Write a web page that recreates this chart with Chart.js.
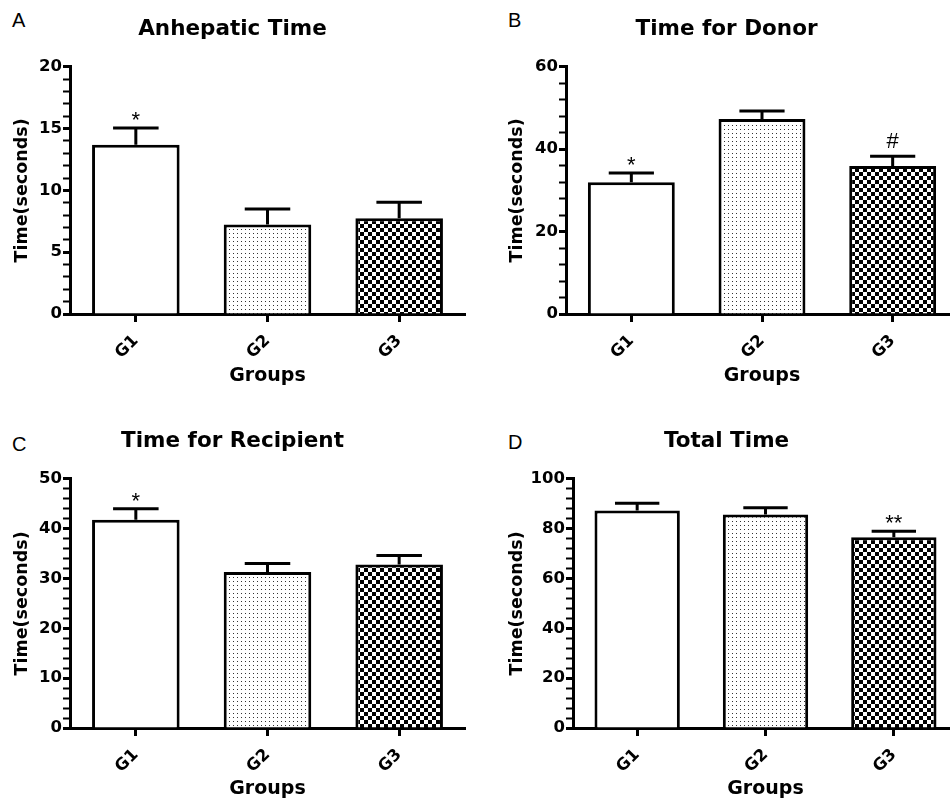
<!DOCTYPE html>
<html>
<head>
<meta charset="utf-8">
<title>Time panels</title>
<script src="https://cdn.jsdelivr.net/npm/chart.js@4.4.1/dist/chart.umd.min.js"></script>
<style>
  html, body { margin: 0; padding: 0; background: #fff; overflow: hidden; }
  #wrap { position: relative; width: 950px; height: 801px; overflow: hidden; background: #fff; }
  #wrap canvas { position: absolute; }
  .letter { position: absolute; font: 20px "Liberation Sans", Arial, sans-serif; line-height: 20px; color: #000; }
</style>
</head>
<body>
<div id="wrap">
  <div class="letter" style="left:12px;top:10px">A</div>
  <div class="letter" style="left:508px;top:10px">B</div>
  <div class="letter" style="left:12px;top:434px">C</div>
  <div class="letter" style="left:508px;top:432px">D</div>
  <canvas id="chartA"></canvas>
  <canvas id="chartB"></canvas>
  <canvas id="chartC"></canvas>
  <canvas id="chartD"></canvas>
</div>
<script>
const groups = ['G1', 'G2', 'G3'];

// A - anhepatic time
const anhepaticMean = [13.7, 7.25, 7.75];
const anhepaticSem = [1.35, 1.25, 1.3];
const anhepaticMarks = ['*', '', ''];
const anhepaticTicks = [0, 5, 10, 15, 20];

// B - time for donor
const donorMean = [32.0, 47.3, 35.9];
const donorSem = [2.2, 2.0, 2.4];
const donorMarks = ['*', '', '#'];
const donorTicks = [0, 20, 40, 60];

// C - time for recipient
const recipientMean = [41.8, 31.3, 32.8];
const recipientSem = [2.2, 1.7, 1.8];
const recipientMarks = ['*', '', ''];
const recipientTicks = [0, 10, 20, 30, 40, 50];

// D - total time
const totalMean = [87.3, 85.7, 76.5];
const totalSem = [2.9, 2.7, 2.5];
const totalMarks = ['', '', '**'];
const totalTicks = [0, 20, 40, 60, 80, 100];

const boldFont = '"DejaVu Sans", sans-serif';

// fill patterns: plain white, fine grey dots, checkerboard
function dotPattern() {
    const c = document.createElement('canvas');
    c.width = 4; c.height = 4;
    const g = c.getContext('2d');
    g.fillStyle = '#fff';
    g.fillRect(0, 0, 4, 4);
    g.fillStyle = '#333';
    g.fillRect(1, 1, 1, 1);
    return g.createPattern(c, 'repeat');
}

function checkerPattern() {
    const c = document.createElement('canvas');
    c.width = 8; c.height = 8;
    const g = c.getContext('2d');
    g.fillStyle = '#fff';
    g.fillRect(0, 0, 8, 8);
    g.fillStyle = '#000';
    g.fillRect(0, 0, 4, 4);
    g.fillRect(4, 4, 4, 4);
    return g.createPattern(c, 'repeat');
}

const fills = ['#ffffff', dotPattern(), checkerPattern()];

// upward SEM bars plus significance marks
const errorBars = {
    id: 'errorBars',
    afterDatasetsDraw(chart) {
        const ctx = chart.ctx;
        const ds = chart.data.datasets[0];
        const yScale = chart.scales.y;
        chart.getDatasetMeta(0).data.forEach((bar, i) => {
            const top = yScale.getPixelForValue(ds.data[i] + ds.errors[i]);
            const half = bar.width * 0.26;
            ctx.save();
            ctx.strokeStyle = '#000';
            ctx.lineWidth = 3;
            ctx.beginPath();
            ctx.moveTo(bar.x, bar.y);
            ctx.lineTo(bar.x, top);
            ctx.moveTo(bar.x - half, top);
            ctx.lineTo(bar.x + half, top);
            ctx.stroke();
            if (ds.marks[i]) {
                ctx.font = '22px "Liberation Sans", Arial, sans-serif';
                ctx.textAlign = 'center';
                ctx.textBaseline = 'alphabetic';
                ctx.fillStyle = '#000';
                const m = ctx.measureText(ds.marks[i]);
                ctx.fillText(ds.marks[i], bar.x, top - 8 - m.actualBoundingBoxDescent);
            }
            ctx.restore();
        });
    }
};

function makeChart(id, title, means, sems, marks, ticks, box) {
    const canvas = document.getElementById(id);
    canvas.width = box.width;
    canvas.height = box.height;
    canvas.style.left = box.left + 'px';
    canvas.style.top = box.top + 'px';
    canvas.style.width = box.width + 'px';
    canvas.style.height = box.height + 'px';

    const major = ticks[1] - ticks[0];
    const isMajor = v => ticks.some(t => Math.abs(t - v) < 1e-6);

    return new Chart(canvas, {
        type: 'bar',
        data: {
            labels: groups,
            datasets: [{
                data: means,
                errors: sems,
                marks: marks,
                backgroundColor: fills,
                borderColor: '#000',
                borderWidth: 3,
                categoryPercentage: 1,
                barPercentage: 0.665
            }]
        },
        options: {
            responsive: false,
            animation: false,
            devicePixelRatio: 1,
            layout: { padding: { left: 0, right: box.padRight, top: 0, bottom: 0 } },
            plugins: {
                legend: { display: false },
                tooltip: { enabled: false },
                title: {
                    display: true,
                    text: title,
                    color: '#000',
                    font: { family: boldFont, size: 21.5, weight: 'bold' },
                    padding: { top: 17, bottom: 24 }
                }
            },
            scales: {
                x: {
                    grid: { offset: false, drawOnChartArea: false, tickLength: 8, tickWidth: 3, tickColor: '#000' },
                    border: { display: true, color: '#000', width: 3 },
                    ticks: {
                        color: '#000',
                        font: { family: boldFont, size: 16.5, weight: 'bold' },
                        minRotation: 45,
                        maxRotation: 45,
                        padding: 9
                    },
                    title: {
                        display: true,
                        text: 'Groups',
                        color: '#000',
                        font: { family: boldFont, size: 19, weight: 'bold' },
                        padding: { top: 0, bottom: 13 }
                    },
                    afterFit: s => { s.height = box.xHeight; }
                },
                y: {
                    min: 0,
                    max: ticks[ticks.length - 1],
                    grid: {
                        drawOnChartArea: false,
                        tickLength: 7,
                        tickColor: '#000',
                        tickWidth: c => (c.tick && isMajor(c.tick.value)) ? 3 : 2
                    },
                    border: { display: true, color: '#000', width: 3 },
                    ticks: {
                        stepSize: major / 5,
                        autoSkip: false,
                        color: '#000',
                        padding: 1,
                        font: { family: boldFont, size: 16.5, weight: 'bold' },
                        callback: v => isMajor(v) ? String(Math.round(v)) : ''
                    },
                    title: {
                        display: true,
                        text: 'Time(seconds)',
                        color: '#000',
                        font: { family: boldFont, size: 17.5, weight: 'bold' },
                        padding: { top: 12, bottom: 0 }
                    },
                    afterFit: s => { s.width = box.yWidth; }
                }
            }
        },
        plugins: [errorBars]
    });
}

makeChart('chartA', 'Anhepatic Time', anhepaticMean, anhepaticSem, anhepaticMarks, anhepaticTicks,
    { left: 0, top: 0, width: 500, height: 400, yWidth: 70, padRight: 35, xHeight: 86 });
makeChart('chartB', 'Time for Donor', donorMean, donorSem, donorMarks, donorTicks,
    { left: 495, top: 0, width: 500, height: 400, yWidth: 71, padRight: 37, xHeight: 86 });
makeChart('chartC', 'Time for Recipient', recipientMean, recipientSem, recipientMarks, recipientTicks,
    { left: 0, top: 412, width: 500, height: 401, yWidth: 70, padRight: 35, xHeight: 85 });
makeChart('chartD', 'Total Time', totalMean, totalSem, totalMarks, totalTicks,
    { left: 495, top: 412, width: 500, height: 401, yWidth: 78, padRight: 37, xHeight: 85 });
</script>
</body>
</html>
